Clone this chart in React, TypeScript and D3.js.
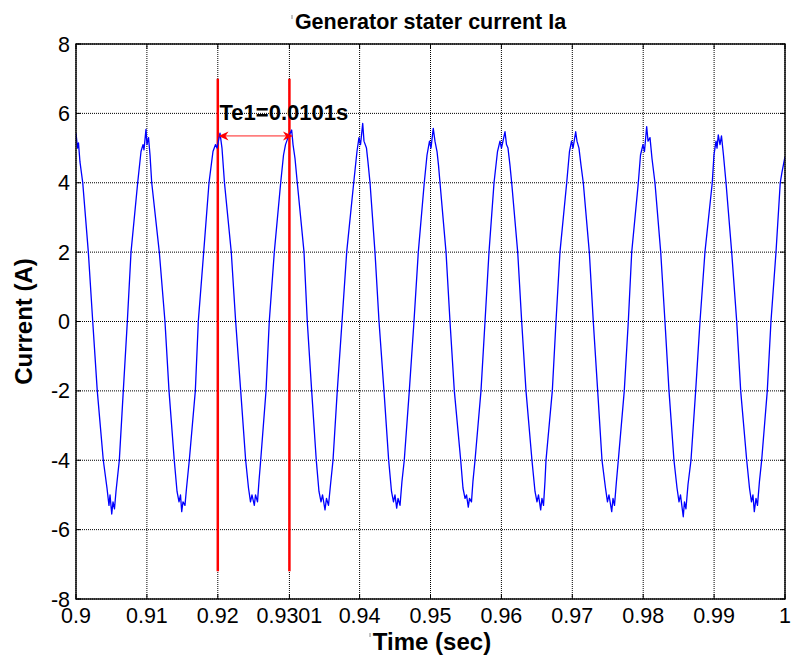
import React from "react";
import * as d3 from "d3";

// Time offsets (ms after t = 0.9 s) and current samples
const timeOffsetMs = [
  0, 0.21, 0.35, 0.56, 0.95, 1.74, 2.36, 3.0, 3.85, 4.37, 4.65, 4.8, 5.04, 5.22, 5.43, 5.64,
  6.11, 6.67, 7.24, 7.76, 8.7, 9.17, 9.45, 9.59, 9.87, 10.01, 10.23, 10.44,
  10.68, 11.75, 12.55, 13.12, 13.86, 14.25, 14.53, 14.74, 14.91, 15.09, 15.37, 15.59,
  15.98, 16.83, 17.25, 18.01, 18.76, 19.32, 19.68, 19.89, 20.31, 20.59,
  20.94, 21.9, 22.52, 23.23, 23.93, 24.33, 24.61, 24.82, 25.15, 25.32, 25.6, 25.81,
  26.05, 26.8, 27.26, 27.97, 28.87, 29.27, 29.55, 29.9, 30.42, 30.61, 30.89,
  31.21, 32.16, 32.62, 33.24, 33.89, 34.27, 34.56, 34.77, 35.12, 35.33, 35.61, 35.9,
  36.25, 36.85, 37.52, 38.18, 39.17, 39.63, 39.91, 40.13, 40.44, 40.62, 40.97, 41.18,
  41.47, 42.17, 42.74, 43.44, 44.1, 44.5, 44.78, 44.99, 45.23, 45.42, 45.7, 45.98,
  46.3, 47.01, 47.67, 48.28, 49.12, 49.51, 49.86, 50.07, 50.39, 50.63, 50.92, 51.13,
  51.34, 52.19, 52.75, 53.36, 54.26, 54.58, 54.87, 55.08, 55.33, 55.5, 55.78, 55.99,
  56.28, 57.12, 57.69, 58.25, 58.96, 59.45, 59.8, 60.01, 60.51, 60.72, 60.93, 61.21,
  61.45, 62.3, 62.86, 63.47, 64.31, 64.74, 65.02, 65.23, 65.54, 65.72, 65.94, 66.15,
  66.29, 67.18, 67.7, 68.26, 69.21, 69.6, 69.89, 70.1, 70.48, 70.66, 70.94, 71.23,
  71.55, 72.4, 72.96, 73.58, 74.19, 74.68, 74.96, 75.17, 75.56, 75.74, 75.95, 76.23,
  76.49, 77.33, 77.9, 78.38, 79.31, 79.62, 79.97, 80.18, 80.49, 80.68, 80.96, 81.24,
  81.66, 82.47, 83.07, 83.64, 84.34, 84.77, 85.05, 85.26, 85.65, 85.82, 86.03, 86.32,
  86.74, 87.4, 88.01, 88.71, 89.74, 89.98, 90.27, 90.41, 90.59, 90.83, 91.04, 91.32,
  91.68, 92.48, 93.19, 93.75, 94.6, 94.99, 95.27, 95.48, 95.67, 95.91, 96.12, 96.4,
  96.71, 97.5, 98.02, 98.73, 99.33, 99.57, 100,
];
const currentA = [
  5.43, 5.0, 5.15, 4.6, 4, 2, 0, -2, -4, -4.8, -5.3, -5.0, -5.55, -5.2, -5.4, -4.9,
  -4, -2, 0, 2, 4, 4.9, 5.1, 4.95, 5.54, 5.1, 5.3, 4.8,
  4, 2, 0, -2, -4, -4.9, -5.2, -5.0, -5.48, -5.2, -5.3, -4.8,
  -4, -2, 0, 2, 4, 4.9, 5.1, 5.0, 5.43, 5.0,
  4, 2, 0, -2, -4, -4.8, -5.2, -5.0, -5.3, -5.0, -5.2, -4.6,
  -4, -2, 0, 2, 4, 4.8, 5.1, 5.3, 5.52, 5.1, 4.7,
  4, 2, 0, -2, -4, -4.9, -5.2, -5.0, -5.43, -5.1, -5.3, -4.7,
  -4, -2, 0, 2, 4, 4.9, 5.3, 5.1, 5.71, 5.2, 5.0, 4.6,
  4, 2, 0, -2, -4, -4.9, -5.2, -5.0, -5.38, -5.1, -5.3, -4.6,
  -4, -2, 0, 2, 4, 4.8, 5.2, 5.0, 5.57, 5.2, 4.9, 4.5,
  4, 2, 0, -2, -4, -4.8, -5.1, -5.0, -5.35, -5.1, -5.2, -4.6,
  -4, -2, 0, 2, 4, 4.9, 5.2, 5.0, 5.47, 5.1, 5.0, 4.5,
  4, 2, 0, -2, -4, -4.9, -5.2, -5.0, -5.43, -5.1, -5.3, -4.6,
  -4, -2, 0, 2, 4, 4.9, 5.2, 5.0, 5.47, 5.2, 5.0, 4.5,
  4, 2, 0, -2, -4, -4.8, -5.2, -5.0, -5.48, -5.1, -5.3, -4.6,
  -4, -2, 0, 2, 4, 4.8, 5.1, 4.9, 5.62, 5.2, 5.3, 4.7,
  4, 2, 0, -2, -4, -4.8, -5.2, -5.0, -5.63, -5.2, -5.4, -4.7,
  -4, -2, 0, 2, 4, 4.8, 5.2, 5.0, 5.38, 5.1, 5.35, 4.8,
  4, 2, 0, -2, -4, -4.8, -5.2, -5.0, -5.48, -5.1, -5.3, -4.6,
  -4, -2, 0, 2, 4, 4.3, 4.75,
];

const xTickValues = [0.9, 0.91, 0.92, 0.9301, 0.94, 0.95, 0.96, 0.97, 0.98, 0.99, 1];
const xTickLabels = ["0.9", "0.91", "0.92", "0.9301", "0.94", "0.95", "0.96", "0.97", "0.98", "0.99", "1"];
const yTickValues = [-8, -6, -4, -2, 0, 2, 4, 6, 8];

// Marker lines and the period annotation
const markerTimes = [0.92, 0.9301];
const markerRange = [-7.2, 7];
const arrowTimes = [0.9201, 0.9306];
const arrowLevel = 5.35;
const annotationLabel = "Te1=0.0101s";
const annotationPos = [0.92025, 5.8];

const titleText = "Generator stater current Ia";
const xLabelText = "Time (sec)";
const yLabelText = "Current (A)";

const W = 791;
const H = 658;
const M = { left: 76, right: 785, top: 44, bottom: 599 };
const FONT = "'Liberation Sans', Arial, Helvetica, sans-serif";

export default function App() {
  const x = d3.scaleLinear().domain([0.9, 1]).range([M.left, M.right]);
  const y = d3.scaleLinear().domain([-8, 8]).range([M.bottom, M.top]);

  const points: [number, number][] = timeOffsetMs.map((ms, i) => [0.9 + ms / 1000, currentA[i]]);
  const line = d3
    .line<[number, number]>()
    .x((d) => x(d[0]))
    .y((d) => y(d[1]));

  const ax0 = x(arrowTimes[0]);
  const ax1 = x(arrowTimes[1]);
  const ay = y(arrowLevel);
  const headL = 10;
  const headW = 4.5;
  const notch = 7;
  const leftHead = `M${ax0},${ay} L${ax0 + headL},${ay - headW} L${ax0 + notch},${ay} L${ax0 + headL},${ay + headW} Z`;
  const rightHead = `M${ax1},${ay} L${ax1 - headL},${ay - headW} L${ax1 - notch},${ay} L${ax1 - headL},${ay + headW} Z`;

  const tickLen = 5;

  return (
    <svg
      width={W}
      height={H}
      style={{ position: "absolute", left: 0, top: 0, background: "#fff" }}
      fontFamily={FONT}
    >
      <rect x={0} y={0} width={W} height={H} fill="#fff" />
      <defs>
        <clipPath id="plotClip">
          <rect x={M.left} y={M.top} width={M.right - M.left} height={M.bottom - M.top} />
        </clipPath>
      </defs>

      {/* grid */}
      <g stroke="#000" strokeWidth={1} strokeDasharray="1,1">
        {xTickValues.map((v, i) => (
          <line key={"gx" + i} x1={x(v)} x2={x(v)} y1={M.top} y2={M.bottom} />
        ))}
        {yTickValues.map((v, i) => (
          <line key={"gy" + i} x1={M.left} x2={M.right} y1={y(v)} y2={y(v)} />
        ))}
      </g>

      {/* ticks (inward, all four sides) */}
      <g stroke="#000" strokeWidth={1}>
        {xTickValues.map((v, i) => (
          <g key={"tx" + i}>
            <line x1={x(v)} x2={x(v)} y1={M.bottom} y2={M.bottom - tickLen} />
            <line x1={x(v)} x2={x(v)} y1={M.top} y2={M.top + tickLen} />
          </g>
        ))}
        {yTickValues.map((v, i) => (
          <g key={"ty" + i}>
            <line x1={M.left} x2={M.left + tickLen} y1={y(v)} y2={y(v)} />
            <line x1={M.right} x2={M.right - tickLen} y1={y(v)} y2={y(v)} />
          </g>
        ))}
      </g>

      {/* red marker lines */}
      <g stroke="#ff0000" strokeWidth={2.5}>
        {markerTimes.map((t, i) => (
          <line key={"m" + i} x1={x(t)} x2={x(t)} y1={y(markerRange[1])} y2={y(markerRange[0])} />
        ))}
      </g>

      {/* signal */}
      <path
        d={line(points) || ""}
        fill="none"
        stroke="#0000ff"
        strokeWidth={1.3}
        strokeLinejoin="round"
        clipPath="url(#plotClip)"
      />

      {/* double arrow */}
      <line x1={ax0 + notch} x2={ax1 - notch} y1={ay} y2={ay} stroke="#ff2020" strokeWidth={1} />
      <path d={leftHead} fill="#ff0000" />
      <path d={rightHead} fill="#ff0000" />

      <text
        x={x(annotationPos[0])}
        y={y(annotationPos[1])}
        fontSize={22}
        fontWeight="bold"
        fill="#000"
      >
        {annotationLabel}
      </text>

      {/* axes box */}
      <rect
        x={M.left}
        y={M.top}
        width={M.right - M.left}
        height={M.bottom - M.top}
        fill="none"
        stroke="#000"
        strokeWidth={1.4}
      />

      {/* tick labels */}
      <g fontSize={21.5} fill="#000">
        {xTickValues.map((v, i) => (
          <text key={"lx" + i} x={x(v)} y={623} textAnchor="middle">
            {xTickLabels[i]}
          </text>
        ))}
        {yTickValues.map((v, i) => (
          <text key={"ly" + i} x={70} y={y(v) + 7.5} textAnchor="end">
            {String(v)}
          </text>
        ))}
      </g>

      {/* title and axis labels */}
      <line x1={292} x2={292} y1={15} y2={19} stroke="#888" strokeWidth={1} />
      <text x={(M.left + M.right) / 2} y={28.5} textAnchor="middle" fontSize={21.5} fontWeight="bold">
        {titleText}
      </text>
      <line x1={370} x2={370} y1={633} y2={637} stroke="#888" strokeWidth={1} />
      <text x={432} y={650} textAnchor="middle" fontSize={24} fontWeight="bold">
        {xLabelText}
      </text>
      <text
        transform={`translate(32, ${(M.top + M.bottom) / 2}) rotate(-90)`}
        textAnchor="middle"
        fontSize={24}
        fontWeight="bold"
      >
        {yLabelText}
      </text>
    </svg>
  );
}
